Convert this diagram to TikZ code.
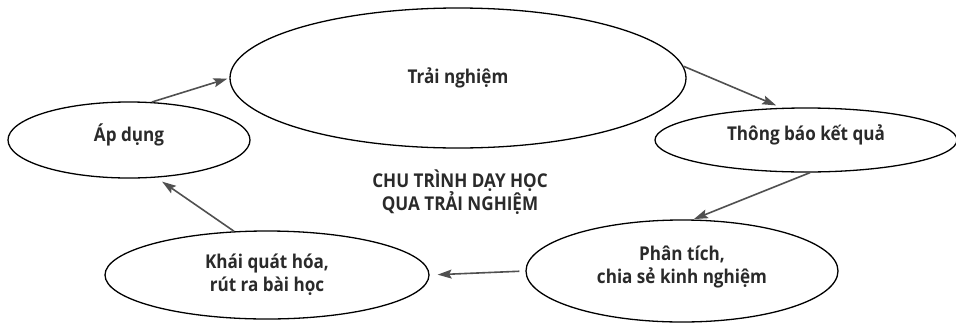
\documentclass[tikz,border=0pt]{standalone}
\usepackage{fontspec}
\setmainfont{Open Sans}[FakeStretch=0.9]
\usetikzlibrary{shapes.geometric,arrows.meta}
\definecolor{txt}{HTML}{2A2A2A}
\definecolor{arr}{HTML}{505050}
\tikzset{
  stage/.style={ellipse,draw=black,line width=1.3pt,inner sep=0pt,align=center,
    text=txt,font=\fontsize{19}{23}\selectfont\bfseries},
  flow/.style={draw=arr,line width=1.6pt,-{Stealth[length=14pt,width=9pt,inset=2.5pt]}}
}
\begin{document}
\begin{tikzpicture}[x=1pt,y=-1pt]
\useasboundingbox (0,0) rectangle (956,322);
\node[stage,minimum width=456pt,minimum height=140pt] (tn) at (458,78) {Trải nghiệm};
\node[stage,minimum width=242pt,minimum height=76pt,text depth=14pt] (ap) at (129,140) {Áp dụng};
\node[stage,minimum width=302pt,minimum height=64pt,text depth=14pt] (tb) at (806,140) {Thông báo kết quả};
\node[stage,minimum width=312pt,minimum height=102pt,text depth=12pt] (pt) at (682,271) {Phân tích,\\chia sẻ kinh nghiệm};
\node[stage,minimum width=324pt,minimum height=88pt] (kq) at (267,275) {Khái quát hóa,\\rút ra bài học};
\node[text=txt,font=\fontsize{19}{23}\selectfont\bfseries,align=center] (title) at (460,192) {CHU TRÌNH DẠY HỌC\\QUA TRẢI NGHIỆM};
\draw[flow,shorten >=2pt] (ap.59) -- (tn.180);
\draw[flow,shorten >=6pt] (tn.3) -- (tb.127);
\draw[flow,shorten >=1pt] (tb.-83) -- (pt.78);
\draw[flow,shorten <=6pt,shorten >=8pt] (pt.west) -- (kq.east);
\draw[flow,shorten >=7pt] (kq.127) -- (ap.-54);
\end{tikzpicture}
\end{document}
